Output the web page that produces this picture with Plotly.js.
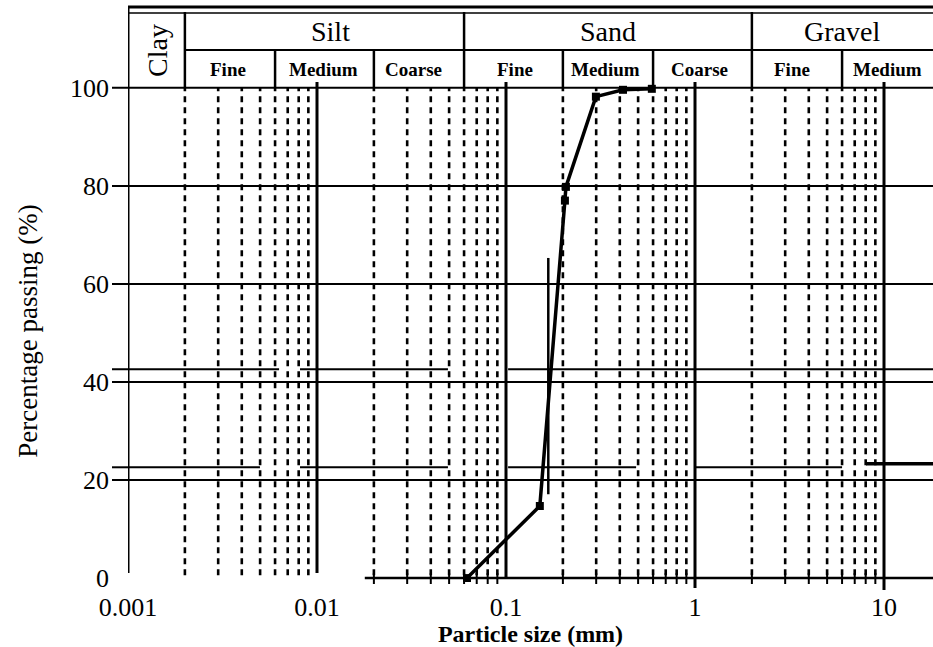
<!DOCTYPE html>
<html><head><meta charset="utf-8">
<script src="https://cdn.plot.ly/plotly-3.0.1.min.js"></script>
<style>html,body{margin:0;padding:0;background:#fff}#chart{width:933px;height:647px}</style>
</head><body><div id="chart"></div>
<script>
// ---- data ----
const particleSize = [0.0622, 0.151, 0.205, 0.2075, 0.299, 0.416, 0.591];
const percentPassing = [0, 14.7, 77, 79.8, 98.2, 99.6, 99.8];
const refLineSize = [0.1674, 0.1674];
const refLinePassing = [17.1, 65.3];
const tickVals = [0.001, 0.01, 0.1, 1, 10];
const tickText = ['0.001', '0.01', '0.1', '1', '10'];
const yTickVals = [0, 20, 40, 60, 80, 100];
const gridLevels = [20, 40, 60, 80, 100];
const classNames = ['Clay', 'Silt', 'Sand', 'Gravel'];
const classBounds = [0.002, 0.06, 2];
const subNames = ['Fine', 'Medium', 'Coarse', 'Fine', 'Medium', 'Coarse', 'Fine', 'Medium'];
const subBounds = [0.006, 0.02, 0.2, 0.6, 6];
const upperLevel = 42.6, lowerLevel = 22.6, gravelLevel = 23.3;
const upperSegments = [[0.001, 0.0063], [0.00813, 0.0493], [0.1026, 18.2]];
const lowerSegments = [[0.001, 0.00499], [0.00813, 0.0493], [0.1026, 0.488], [1.0, 6.0]];
const gravelSegment = [8.03, 18.2];

// ---- layout helpers ----
const FONT = '"Liberation Serif", "Times New Roman", serif';
const W = 933, HT = 647, ML = 128, MR = 0, MT = 80, MB = 65;
const PH = HT - MT - MB, PW = W - ML - MR;
const XR = [-3, -3 + PW / 189];
const XMAX = Math.pow(10, XR[1]);
const py = px => (HT - MB - px) / PH;   // pixel row -> paper y
const stubX = -16 / PW;

const shapes = [];
const line = (o, w, dash) => Object.assign({type: 'line', layer: 'below', line: {color: '#000', width: w, dash: dash || 'solid'}}, o);

// dashed minor verticals
for (let d = -3; d <= 0; d++) {
  for (let m = 2; m <= 9; m++) {
    const xv = m * Math.pow(10, d);
    shapes.push(line({xref: 'x', yref: 'y', x0: xv, x1: xv, y0: 0.6, y1: 100}, 2.6, '6px,5px'));
    if (xv >= 0.019) shapes.push(line({xref: 'x', yref: 'paper', x0: xv, x1: xv, y0: py(584), y1: py(573)}, 2));
  }
}
// decade verticals
shapes.push(line({xref: 'x', yref: 'paper', x0: 0.001, x1: 0.001, y0: py(573), y1: py(7)}, 3));
shapes.push(line({xref: 'x', yref: 'paper', x0: 0.01, x1: 0.01, y0: py(573), y1: py(82)}, 3));
shapes.push(line({xref: 'x', yref: 'paper', x0: 0.1, x1: 0.1, y0: py(578), y1: py(82)}, 3));
shapes.push(line({xref: 'x', yref: 'paper', x0: 1, x1: 1, y0: py(588), y1: py(82)}, 3));
shapes.push(line({xref: 'x', yref: 'paper', x0: 10, x1: 10, y0: py(590), y1: py(82)}, 3));
// horizontal grid
gridLevels.forEach(v => shapes.push(line({xref: 'paper', yref: 'y', x0: stubX, x1: 1, y0: v, y1: v}, 2)));
// bottom axis (right part)
shapes.push(line({xref: 'x', yref: 'y', x0: 0.0179, x1: XMAX, y0: 0, y1: 0}, 2.5));
// partial reference levels
[[upperLevel, upperSegments], [lowerLevel, lowerSegments]].forEach(([lv, segs]) => {
  shapes.push(line({xref: 'paper', yref: 'y', x0: stubX, x1: 0, y0: lv, y1: lv}, 2));
  segs.forEach(s => shapes.push(line({xref: 'x', yref: 'y', x0: s[0], x1: s[1], y0: lv, y1: lv}, 2)));
});
shapes.push(line({xref: 'x', yref: 'y', x0: gravelSegment[0], x1: gravelSegment[1], y0: gravelLevel, y1: gravelLevel}, 3.5));
// header table
shapes.push(line({xref: 'x', yref: 'paper', x0: 0.001, x1: XMAX, y0: py(7), y1: py(7)}, 3));
shapes.push(line({xref: 'x', yref: 'paper', x0: 0.001, x1: XMAX, y0: py(13), y1: py(13)}, 1.5));
shapes.push(line({xref: 'x', yref: 'paper', x0: classBounds[0], x1: XMAX, y0: py(50), y1: py(50)}, 2));
classBounds.forEach(b => shapes.push(line({xref: 'x', yref: 'paper', x0: b, x1: b, y0: py(88), y1: py(12)}, 2.5)));
subBounds.forEach(b => shapes.push(line({xref: 'x', yref: 'paper', x0: b, x1: b, y0: py(88), y1: py(50)}, 2.5)));

// header labels (annotations use log10 x on a log axis)
const annotations = [];
const classPos = [-2.847, -1.93, -0.46, 0.778];
classNames.forEach((t, i) => annotations.push({
  xref: 'x', yref: 'paper', x: classPos[i], y: i === 0 ? py(50) : py(31),
  xanchor: 'center', yanchor: 'middle',
  text: t, showarrow: false, textangle: i === 0 ? -90 : 0,
  font: {family: FONT, size: 28, color: '#000'}
}));
const subPos = [-2.471, -1.963, -1.492, -0.952, -0.471, 0.026, 0.513, 1.016];
subNames.forEach((t, i) => annotations.push({
  xref: 'x', yref: 'paper', x: subPos[i], y: py(69),
  xanchor: 'center', yanchor: 'middle',
  text: t, showarrow: false,
  font: {family: FONT, size: 19, color: '#000', weight: 'bold'}
}));

const traces = [
  {x: particleSize, y: percentPassing, type: 'scatter', mode: 'lines+markers',
   line: {color: '#000', width: 3.5}, marker: {symbol: 'square', size: 8, color: '#000'},
   showlegend: false, hoverinfo: 'x+y'},
  {x: refLineSize, y: refLinePassing, type: 'scatter', mode: 'lines',
   line: {color: '#000', width: 2.5}, showlegend: false}
];

const layout = {
  width: W, height: HT,
  margin: {l: ML, r: MR, t: MT, b: MB},
  paper_bgcolor: '#fff', plot_bgcolor: '#fff',
  showlegend: false,
  font: {family: FONT, color: '#000'},
  xaxis: {
    type: 'log', range: XR, tickvals: tickVals, ticktext: tickText,
    showgrid: false, zeroline: false, showline: false,
    ticks: 'outside', ticklen: 2, tickcolor: 'rgba(0,0,0,0)',
    tickfont: {family: FONT, size: 26, color: '#000'},
    title: {text: 'Particle size (mm)', font: {family: FONT, size: 24, color: '#000', weight: 'bold'}, standoff: 3}
  },
  yaxis: {
    range: [-0.8, 101.6], tickvals: yTickVals,
    showgrid: false, zeroline: false, showline: false, ticks: '',
    tickfont: {family: FONT, size: 26, color: '#000'},
    ticklabelstandoff: 18,
    title: {text: 'Percentage passing (%)', font: {family: FONT, size: 27, color: '#000'}, standoff: 24}
  },
  shapes: shapes,
  annotations: annotations
};

Plotly.newPlot('chart', traces, layout, {displayModeBar: false, staticPlot: true});
</script>
</body></html>
